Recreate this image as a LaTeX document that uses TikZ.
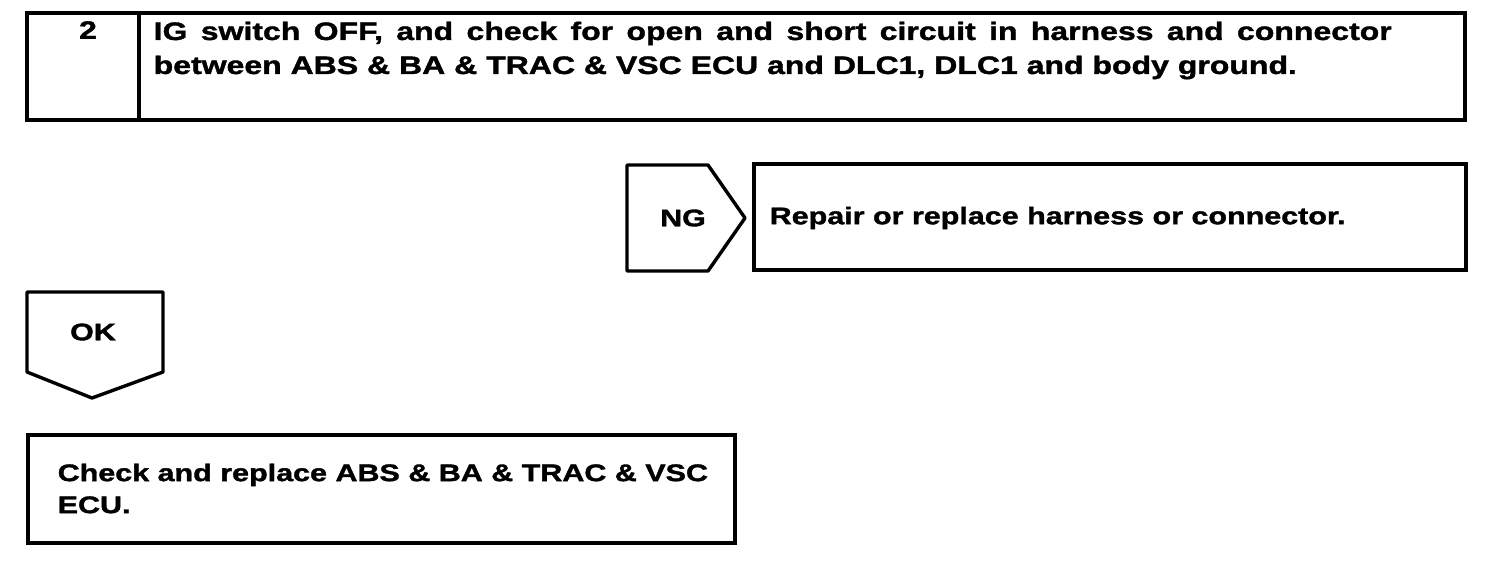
\documentclass[tikz,border=0pt]{standalone}
\usepackage{fontspec}
\setmainfont{Liberation Sans}[FakeStretch=1.27,BoldFeatures={FakeBold=1.5}]
\usetikzlibrary{positioning}

\begin{document}
\begin{tikzpicture}[x=0.5pt,y=-0.5pt,line width=1.7pt,
  box/.style={draw,minimum height=53.5pt,inner sep=0pt,outer sep=0pt},
  txt/.style={inner sep=0pt,font=\bfseries\fontsize{12}{16}\selectfont,align=left},
  bigtxt/.style={txt,font=\bfseries\fontsize{12.6}{17}\selectfont}]
  \useasboundingbox (0,0) rectangle (1504,570);
  \node[box,anchor=north west,minimum width=56pt] (num) at (27,13) {};
  \node[box,anchor=north west,minimum width=663pt] (check) at (num.north east) {};
  \node[bigtxt] (numtxt) at (88,30) {2};
  \node[bigtxt,anchor=north west] (checktxt) at (152,20)
    {\makebox[619pt][s]{IG switch OFF, and check for open and short circuit in harness and connector}\\
     between ABS \& BA \& TRAC \& VSC ECU and DLC1, DLC1 and body ground.};
  \node[txt] (ng) at (683,218) {NG};
  \draw[line join=round] (627,165) -- (708,165) -- (745,218) -- (708,271) -- (627,271) -- cycle;
  \node[box,anchor=west,minimum width=356pt,minimum height=53pt] (repair) at (754,217) {};
  \node[txt,anchor=west] (repairtxt) at (768,218) {Repair or replace harness or connector.};
  \node[txt] (ok) at (93,332) {OK};
  \draw[line join=round] (27,292) -- (163,292) -- (163,372) -- (92,398) -- (27,372) -- cycle;
  \node[box,anchor=north west,minimum width=353.5pt,minimum height=54pt] (ecu) at (28,435) {};
  \node[txt,anchor=north west] (ecutxt) at (56,462)
    {Check and replace ABS \& BA \& TRAC \& VSC\\ECU.};
\end{tikzpicture}
\end{document}
